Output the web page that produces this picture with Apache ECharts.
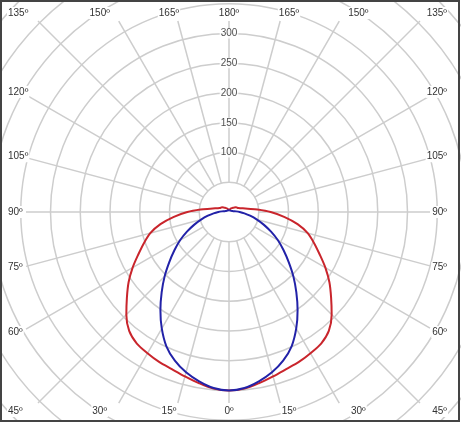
<!DOCTYPE html>
<html><head><meta charset="utf-8">
<script src="https://cdn.jsdelivr.net/npm/echarts@6/dist/echarts.min.js"></script>
<style>html,body{margin:0;padding:0;background:#fff}#c{width:461px;height:426px}</style>
</head><body><div id="c"></div>
<script>
// gamma angles (degrees from nadir), one half of the symmetric plane
const GAMMA = [0,5,10,15,20,25,30,35,40,45,50,55,60,65,70,75,80,85,90,95,100,105,110,115,120,125,130,135,140,145,150,155,160,165,170,175,180];
// red curve intensity values
const RED = [300,298,292,286,281,278,274,270,261,244,224,206,187,168,152,137,117,93,70,48,32,24,19,16,15,14,12,10,9,8,7,6,5,4,3.5,3,2.5];
// blue curve intensity values
const BLUE = [300,297,289,279,266,249,226,201,176,153,131,112,95,78,62,48,36,26,18,12,8,6,5,4.5,4,4,3.5,3.5,3.5,3,3,3,3,3,3,3,3];
// radius tick labels shown along the top axis
const RADIUS_TICKS = [100,150,200,250,300];
// angle labels around the frame
const ANGLE_LABELS = [0,15,30,45,60,75,90,105,120,135,150,165,180];

const CX = 229, CY = 212, K = 0.595, RMAX = 550, RAY_START = 50, RAY_STEP = 15;
const RECT = {x0: 26, y0: 21, x1: 430, y1: 403};
const GRID = '#cdcdcd';

function mirror(vals) {
  const pts = [];
  for (let i = GAMMA.length - 1; i >= 0; i--) pts.push([vals[i], GAMMA[i]]);
  for (let i = 1; i < GAMMA.length; i++) pts.push([vals[i], 360 - GAMMA[i]]);
  return pts;
}
const rayData = [];
for (let a = 0; a < 360; a += RAY_STEP) rayData.push([RAY_START, a]);

const chart = echarts.init(document.getElementById('c'), null, {renderer: 'canvas'});

const graphics = [];
const font = '10px "Liberation Sans", Arial, sans-serif';
ANGLE_LABELS.forEach(function (g) {
  const sides = (g === 0 || g === 180) ? [1] : [-1, 1];
  sides.forEach(function (s) {
    let x, y, align;
    const rad = Math.PI / 180;
    if (g <= 30) { x = CX + s * 224 * Math.tan(g * rad); y = 411; align = 'center'; }
    else if (g >= 150) { x = CX + s * 224 * Math.tan((180 - g) * rad); y = 13; align = 'center'; }
    else {
      if (g === 45) y = 411; else if (g === 135) y = 13; else y = CY + 208 * Math.tan((90 - g) * rad);
      if (s < 0) { x = 7; align = 'left'; } else { x = 448; align = 'right'; }
    }
    graphics.push({type: 'text', z: 50, style: {text: g + 'º', x: x, y: y, align: align, verticalAlign: 'middle', fill: '#333', font: font, backgroundColor: '#fff', padding: [1, 1]}});
  });
});
graphics.push({type: 'rect', z: 99, shape: {x: 0, y: 422, width: 461, height: 4}, style: {fill: '#fff'}});
graphics.push({type: 'rect', z: 100, shape: {x: 1, y: 1, width: 458, height: 420}, style: {fill: 'none', stroke: '#444', lineWidth: 2}});

const option = {
  animation: false,
  polar: {center: [CX, CY], radius: K * RMAX},
  angleAxis: {type: 'value', min: 0, max: 360, startAngle: 270, clockwise: true,
    axisLine: {show: false}, axisTick: {show: false}, axisLabel: {show: false}, splitLine: {show: false}},
  radiusAxis: {type: 'value', min: 0, max: RMAX, interval: 50,
    axisLine: {show: false}, axisTick: {show: false}, axisLabel: {show: false},
    splitLine: {show: true, lineStyle: {color: GRID, width: 1.5}}},
  series: [
    {type: 'custom', coordinateSystem: 'polar', silent: true, z: 1, data: rayData,
      renderItem: function (params, api) {
        const a = api.value(1);
        const p0 = api.coord([api.value(0), a]);
        const c = api.coord([0, a]);
        const dx = p0[0] - c[0], dy = p0[1] - c[1];
        const len = Math.hypot(dx, dy), ux = dx / len, uy = dy / len;
        let t = Infinity;
        if (ux > 1e-9) t = Math.min(t, (RECT.x1 - c[0]) / ux);
        if (ux < -1e-9) t = Math.min(t, (RECT.x0 - c[0]) / ux);
        if (uy > 1e-9) t = Math.min(t, (RECT.y1 - c[1]) / uy);
        if (uy < -1e-9) t = Math.min(t, (RECT.y0 - c[1]) / uy);
        return {type: 'line', shape: {x1: p0[0], y1: p0[1], x2: c[0] + ux * t, y2: c[1] + uy * t},
          style: {stroke: GRID, lineWidth: 1.5}};
      }},
    {type: 'line', coordinateSystem: 'polar', data: mirror(RED), showSymbol: false, smooth: 0.3, silent: true, z: 3,
      lineStyle: {color: '#c9252c', width: 2}},
    {type: 'line', coordinateSystem: 'polar', data: mirror(BLUE), showSymbol: false, smooth: 0.3, silent: true, z: 4,
      lineStyle: {color: '#2222a8', width: 2}},
    {type: 'scatter', coordinateSystem: 'polar', silent: true, z: 5, symbolSize: 0,
      data: RADIUS_TICKS.map(function (v) { return [v, 180]; }),
      label: {show: true, position: 'inside', formatter: function (p) { return String(p.value[0]); },
        color: '#222', fontSize: 10, fontFamily: '"Liberation Sans", Arial, sans-serif', backgroundColor: '#fff', padding: [0, 1]}}
  ],
  graphic: graphics
};
chart.setOption(option);
</script>
</body></html>
